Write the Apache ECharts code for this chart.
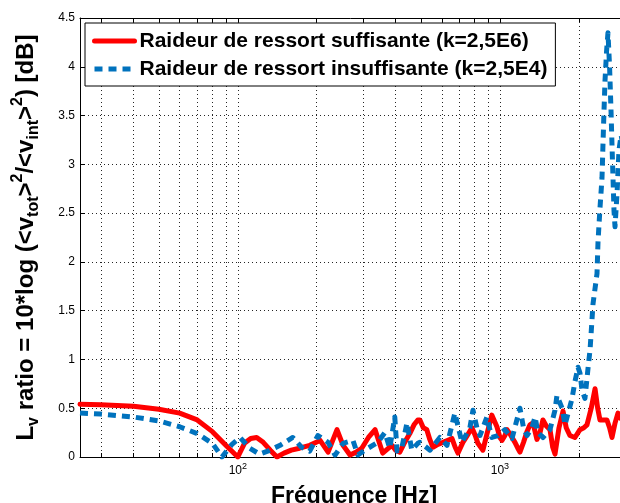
<!DOCTYPE html>
<html>
<head>
<meta charset="utf-8">
<script src="https://cdn.jsdelivr.net/npm/echarts@6/dist/echarts.min.js"></script>
<style>
  html, body { margin: 0; padding: 0; background: #fff; }
  #chart { width: 620px; height: 503px; }
</style>
</head>
<body>
<div id="chart"></div>
<script>
// Series names
const nameSuff = 'Raideur de ressort suffisante (k=2,5E6)';
const nameInsuff = 'Raideur de ressort insuffisante (k=2,5E4)';

// Sufficient spring stiffness: frequency [Hz] and level ratio [dB]
const freqSuff = [25,30,40,50,60,70,80,90,100,106,112,118,125,133,141,150,160,172,188,
  206,221,239,252,268,283,297,315,334,357,372,387,400,415,433,453,470,486,495,510,
  526,540,555,580,606,630,656,675,692,722,750,782,805,824,861,895,931,974,1000,1018,
  1045,1064,1090,1112,1141,1170,1192,1230,1268,1302,1337,1384,1422,1459,1500,1552,1590,1622,1680,1741,
  1790,1849,1932,2020,2090,2148,2230,2306,2360,2408,2480,2560,2620,2676,2750,2820,2871,2950,3080];
const ratioSuff = [0.54,0.535,0.52,0.49,0.45,0.38,0.26,0.12,0.0,0.14,0.19,0.2,0.15,0.07,0.0,0.04,0.07,0.09,0.12,
  0.17,0.05,0.28,0.12,0.02,0.05,0.09,0.2,0.28,0.04,0.08,0.12,0.07,0.05,0.15,0.24,0.33,0.38,0.38,0.3,
  0.28,0.18,0.1,0.13,0.15,0.17,0.19,0.1,0.04,0.15,0.22,0.3,0.22,0.14,0.07,0.25,0.43,0.31,0.2,0.17,
  0.22,0.28,0.24,0.2,0.15,0.09,0.05,0.15,0.26,0.33,0.35,0.18,0.25,0.38,0.32,0.28,0.1,0.03,0.3,0.47,
  0.3,0.22,0.2,0.28,0.3,0.33,0.5,0.7,0.5,0.38,0.38,0.38,0.3,0.2,0.35,0.45,0.4,0.38,0.4];

// Insufficient spring stiffness: frequency [Hz] and level ratio [dB]
const freqInsuff = [25,30,40,50,60,70,80,87,95,102,111,121,130,145,162,175,188,202,221,235,
  252,275,287,305,342,364,380,397,405,423,442,461,486,495,541,590,628,673,716,768,
  789,817,839,892,931,982,1045,1112,1192,1230,1268,1325,1361,1397,1459,1552,1622,1650,1726,1771,
  1884,1932,1986,2020,2056,2110,2168,2207,2265,2346,2367,2408,2451,2472,2494,2516,2550,2583,2620,2654,
  2676,2700,2724,2748,2797,2846,2900,3080];
const ratioInsuff = [0.45,0.44,0.41,0.37,0.31,0.24,0.14,0.0,0.13,0.2,0.09,0.03,0.06,0.12,0.2,0.1,0.06,0.22,0.15,0.02,
  0.14,0.17,0.02,0.07,0.15,0.25,0.09,0.41,0.06,0.1,0.35,0.07,0.14,0.15,0.07,0.2,0.12,0.45,0.15,0.3,
  0.48,0.3,0.22,0.41,0.2,0.22,0.28,0.19,0.5,0.3,0.22,0.3,0.41,0.25,0.2,0.28,0.48,0.63,0.5,0.33,
  0.6,0.77,0.92,0.86,0.69,0.6,0.91,1.1,1.57,1.88,2.21,2.55,2.86,3.2,3.54,3.85,4.15,4.35,4.0,3.54,
  3.2,2.86,2.52,2.36,2.7,3.15,3.3,2.9];

// Axis ticks
const freqGridTicks = [30,40,50,60,70,80,90,100,200,300,400,500,600,700,800,900,1000,2000,3000];
const freqLabelTicks = [100,1000];
const freqMin = 25, freqMax = 3080;
const ratioMin = 0, ratioMax = 4.5, ratioStep = 0.5;

const FONT = 'Liberation Sans, Arial, Helvetica, sans-serif';
const dotted = { color: '#000', width: 1, type: [1, 3], opacity: 0.85 };

const chart = echarts.init(document.getElementById('chart'), null, { renderer: 'canvas' });

const pairs = (xs, ys) => xs.map((x, i) => [x, ys[i]]);

chart.setOption({
  animation: false,
  backgroundColor: '#fff',
  textStyle: { fontFamily: FONT },
  grid: { left: 80, top: 18, right: -8, bottom: 46, containLabel: false, outerBoundsMode: 'none' },
  legend: {
    orient: 'vertical',
    left: 85, top: 23,
    padding: [7, 8, 6, 7],
    itemGap: 6,
    itemWidth: 40, itemHeight: 14,
    backgroundColor: '#fff',
    borderColor: '#000', borderWidth: 1, borderRadius: 0,
    lineStyle: { width: 5 },
    itemStyle: { opacity: 0 },
    textStyle: { fontFamily: FONT, fontWeight: 'bold', fontSize: 21, color: '#000', lineHeight: 22 },
    data: [nameSuff, nameInsuff]
  },
  xAxis: [
    {
      type: 'log', logBase: 10, min: freqMin, max: freqMax,
      position: 'bottom',
      name: 'Fréquence [Hz]', nameLocation: 'middle', nameGap: 24,
      nameTextStyle: { fontFamily: FONT, fontWeight: 'bold', fontSize: 23, color: '#000' },
      axisLine: { show: true, onZero: false, lineStyle: { color: '#000', width: 1 } },
      axisTick: { show: true, inside: true, length: 4, customValues: freqGridTicks, lineStyle: { color: '#000' } },
      axisLabel: {
        show: true, margin: 5, customValues: freqLabelTicks,
        formatter: v => '10{p|' + Math.round(Math.log10(v)) + '}',
        color: '#000', fontFamily: FONT, fontSize: 12, lineHeight: 18,
        rich: { p: { fontFamily: FONT, fontSize: 9, lineHeight: 9, verticalAlign: 'top', color: '#000' } }
      },
      splitLine: { show: true, lineStyle: dotted },
      minorTick: { show: false }
    },
    {
      type: 'log', logBase: 10, min: freqMin, max: freqMax,
      position: 'top',
      axisLine: { show: true, onZero: false, lineStyle: { color: '#000', width: 1 } },
      axisTick: { show: true, inside: true, length: 4, customValues: freqGridTicks, lineStyle: { color: '#000' } },
      axisLabel: { show: false },
      splitLine: { show: false }
    }
  ],
  yAxis: {
    type: 'value', min: ratioMin, max: ratioMax, interval: ratioStep,
    name: 'L{s|v} ratio = 10*log (<v{s|tot}>{p|2}/<v{s|int}>{p|2}) [dB]',
    nameLocation: 'middle', nameRotate: 90, nameGap: 38,
    nameTextStyle: {
      fontFamily: FONT, fontWeight: 'bold', fontSize: 24, color: '#000', lineHeight: 32,
      rich: {
        s: { fontFamily: FONT, fontWeight: 'bold', fontSize: 16, lineHeight: 16, verticalAlign: 'bottom', color: '#000' },
        p: { fontFamily: FONT, fontWeight: 'bold', fontSize: 16, lineHeight: 16, verticalAlign: 'top', color: '#000' }
      }
    },
    axisLine: { show: true, lineStyle: { color: '#000', width: 1 } },
    axisTick: { show: true, inside: true, length: 5, lineStyle: { color: '#000' } },
    axisLabel: { margin: 5, color: '#000', fontFamily: FONT, fontSize: 12, formatter: v => String(v) },
    splitLine: { show: true, lineStyle: dotted }
  },
  series: [
    {
      name: nameSuff, type: 'line', xAxisIndex: 0,
      data: pairs(freqSuff, ratioSuff),
      showSymbol: false, symbol: 'none',
      lineStyle: { color: '#ff0000', width: 5, cap: 'round', join: 'round' },
      itemStyle: { color: '#ff0000' }
    },
    {
      name: nameInsuff, type: 'line', xAxisIndex: 0,
      data: pairs(freqInsuff, ratioInsuff),
      showSymbol: false, symbol: 'none',
      lineStyle: { color: '#0072bd', width: 5, type: [8, 6], cap: 'butt', join: 'round' },
      itemStyle: { color: '#0072bd' }
    }
  ]
});
</script>
</body>
</html>
